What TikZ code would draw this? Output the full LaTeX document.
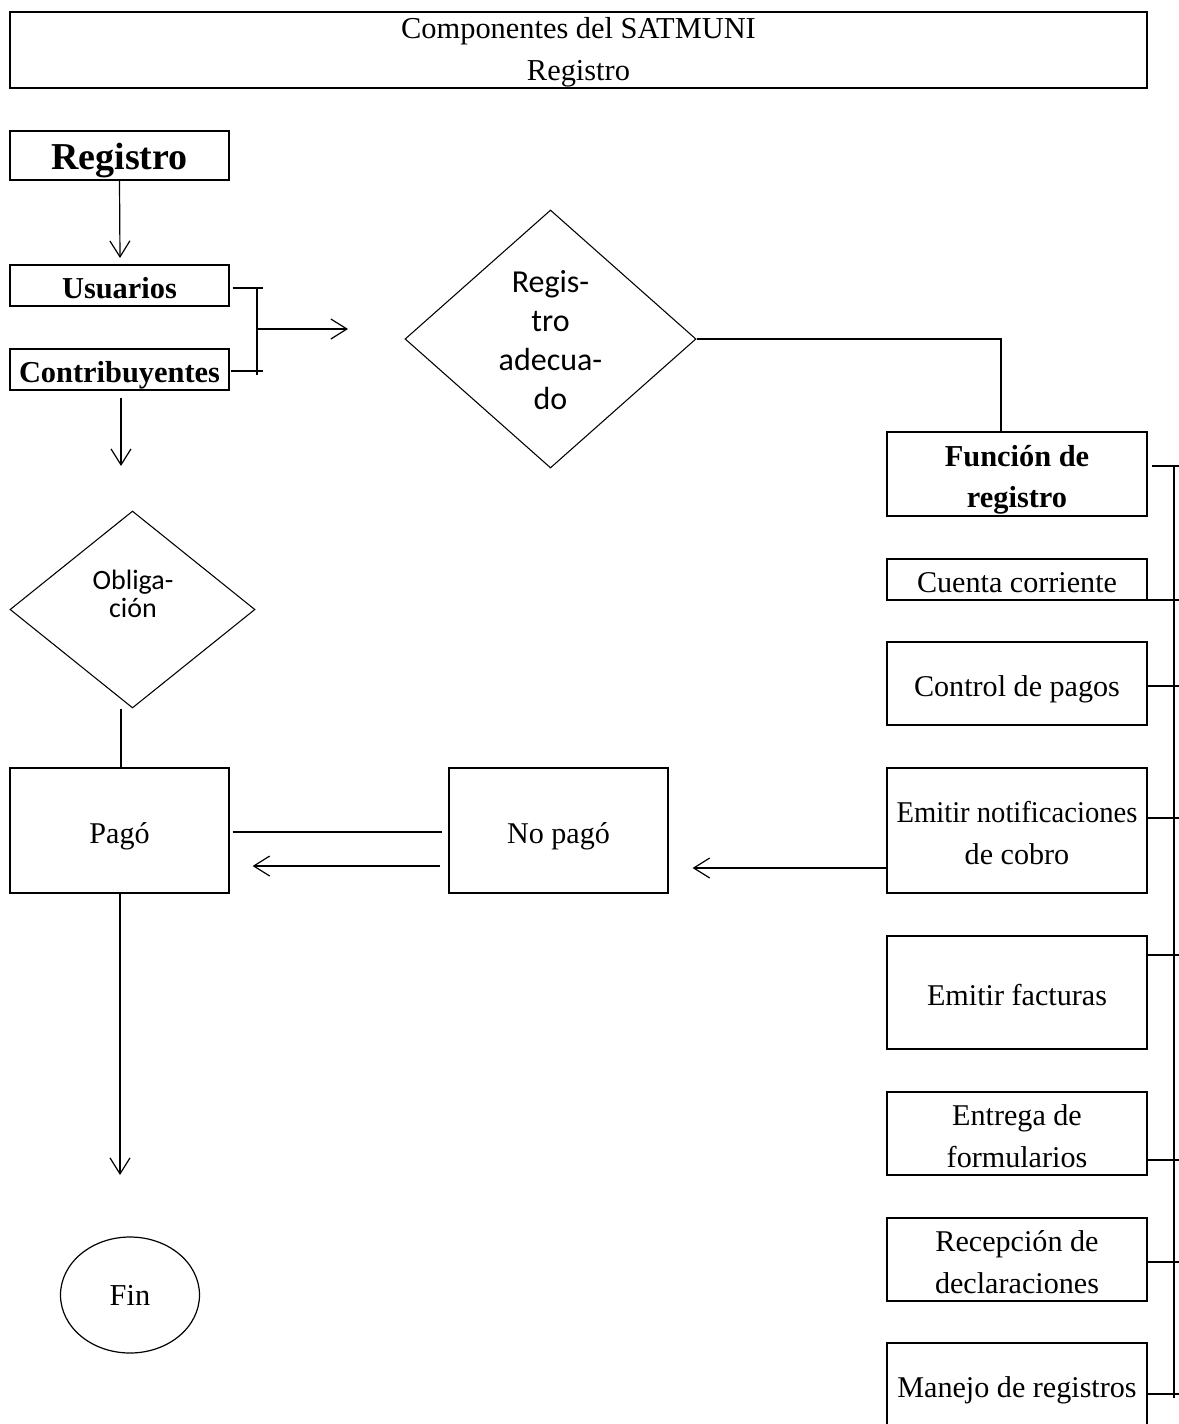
\documentclass[tikz,border=0pt]{standalone}
\usepackage{fontspec}
\usepackage{graphicx}
\setmainfont{Liberation Serif}
\newfontfamily\carlito{Carlito}
\usetikzlibrary{shapes.geometric,arrows.meta,calc}
\newcommand\lo[2][-0.44em]{\raisebox{#1}[0pt][0pt]{#2}}
\newcommand\tlo[1]{\raisebox{-0.3em}[0pt][0pt]{#1}}
\begin{document}
\begin{tikzpicture}[x=0.75pt,y=-0.75pt,
  ln/.style={line width=0.9pt},
  arr/.style={ln,-{Straight Barb[length=12pt,width=15pt]}},
  box/.style={draw,line width=0.9pt,inner sep=0pt,align=center,font=\fontsize{22.6}{31.5}\selectfont},
  bbox/.style={box,font=\fontsize{22.8}{30.75}\selectfont\bfseries},
  lw/.style={minimum width=164.25pt},
  rw/.style={minimum width=195pt},
  dia/.style={diamond,draw,line width=0.8pt,inner sep=0pt},
  dtext/.style={align=center,inner sep=0pt}]
\useasboundingbox (0,0) rectangle (1178,1424);

% title
\node[box,font=\fontsize{22.8}{31.5}\selectfont,minimum width=852.75pt,minimum height=57pt] (title) at (578.5,50) {\tlo{Componentes del SATMUNI}\\\tlo{Registro}};

% left column
\node[box,lw,minimum height=36.75pt,font=\fontsize{28.5}{34}\selectfont\bfseries] (reg) at (119.5,155.5) {\lo[-0.38em]{Registro}};
\node[bbox,lw,minimum height=30.75pt] (usu) at (119.5,285.5) {\lo{Usuarios}};
\node[bbox,lw,minimum height=30.75pt] (con) at (119.5,369.5) {\lo{Contribuyentes}};

% diamonds
\node[dia,minimum width=218.25pt,minimum height=193.5pt] (d1) at (550.5,339) {};
\node[dtext,font=\carlito\fontsize{24}{29.25}\selectfont] (d1t) at (550.5,340) {Regis-\\tro\\adecua-\\do};
\node[dia,minimum width=183.75pt,minimum height=147.75pt] (d2) at (132.5,609.5) {};
\node[dtext,font=\carlito\fontsize{21}{21}\selectfont] (d2t) at (133,594) {Obliga-\\ción};

% right column
\node[bbox,rw,minimum height=63pt] (fun) at (1017,474) {\lo{Función de}\\\lo{registro}};
\node[box,rw,minimum height=30.75pt] (cue) at (1017,579.5) {\lo{Cuenta corriente}};
\node[box,rw,minimum height=62.25pt] (ctl) at (1017,683.5) {\lo{Control de pagos}};
\node[box,rw,minimum height=93.75pt] (emi) at (1017,830.5) {\lo{\scalebox{0.95}[1]{Emitir notificaciones}}\\\lo{de cobro}};
\node[box,rw,minimum height=84.75pt] (fac) at (1017,992.5) {\lo{Emitir facturas}};
\node[box,rw,minimum height=62.25pt] (ent) at (1017,1133.5) {\lo{Entrega de}\\\lo{formularios}};
\node[box,rw,minimum height=62.25pt] (rec) at (1017,1259.5) {\lo{Recepción de}\\\lo{declaraciones}};
\node[box,rw,minimum height=66pt] (man) at (1017,1387) {\lo[-0.34em]{Manejo de registros}};

% payment
\node[box,lw,minimum height=93.75pt] (pago) at (119.5,830.5) {\lo{Pagó}};
\node[box,lw,minimum height=93.75pt] (nopago) at (558.5,830.5) {\lo{No pagó}};
\node[ellipse,draw,line width=0.9pt,inner sep=0pt,minimum width=104.25pt,minimum height=87pt,font=\fontsize{22.8}{31.5}\selectfont] (fin) at (130,1295) {Fin};

% coordinates
\coordinate (a1) at (120,258);
\coordinate (bt) at (257,287);
\coordinate (bb) at (257,375);
\coordinate (bm) at (257,329);
\coordinate (a2) at (348,329);
\coordinate (a3) at (121,466);
\coordinate (a4) at (120,1175);
\coordinate (bus1) at (1174,466);
\coordinate (bus2) at (1174,1398);

% connectors left
\draw[arr] (reg.south) -- (a1);
\draw[ln] ($(usu.east)+(3,2.5)$) -- ++(30,0);
\draw[ln] ($(con.east)+(1,1.5)$) -- ++(32,0);
\draw[ln] (bt) -- (bb);
\draw[arr] (bm) -- (a2);
\draw[arr] ($(con.south)+(1.5,7)$) -- (a3);

% diamond to function
\draw[ln] (d1.east) -| ($(fun.north)+(-16,0)$);

% bus
\draw[ln] (bus1) -- (bus2);
\draw[ln] ($(fun.east)+(4,-8)$) -- ++(27,0);
\draw[ln] ($(cue.east)+(0,20.5)$) -- ++(31,0);
\draw[ln] ($(ctl.east)+(0,2.5)$) -- ++(31,0);
\draw[ln] ($(emi.east)+(0,-12.5)$) -- ++(31,0);
\draw[ln] ($(fac.east)+(0,-37.5)$) -- ++(31,0);
\draw[ln] ($(ent.east)+(0,26.5)$) -- ++(31,0);
\draw[ln] ($(rec.east)+(0,2.5)$) -- ++(31,0);
\draw[ln] ($(man.east)+(0,7)$) -- ++(31,0);

% payment connectors
\draw[ln] ($(pago.east)+(3,1.5)$) -- ($(nopago.west)+(-6,1.5)$);
\draw[arr] ($(nopago.west)+(-8,35.5)$) -- ($(pago.east)+(23,35.5)$);
\draw[arr] ($(emi.west)+(0,37.5)$) -- ($(nopago.east)+(24,37.5)$);
\draw[ln] ($(d2.south)+(-11.5,0)$) -- ($(pago.north)+(1.5,0)$);
\draw[arr] ($(pago.south)+(0.5,0)$) -- (a4);
\end{tikzpicture}
\end{document}
